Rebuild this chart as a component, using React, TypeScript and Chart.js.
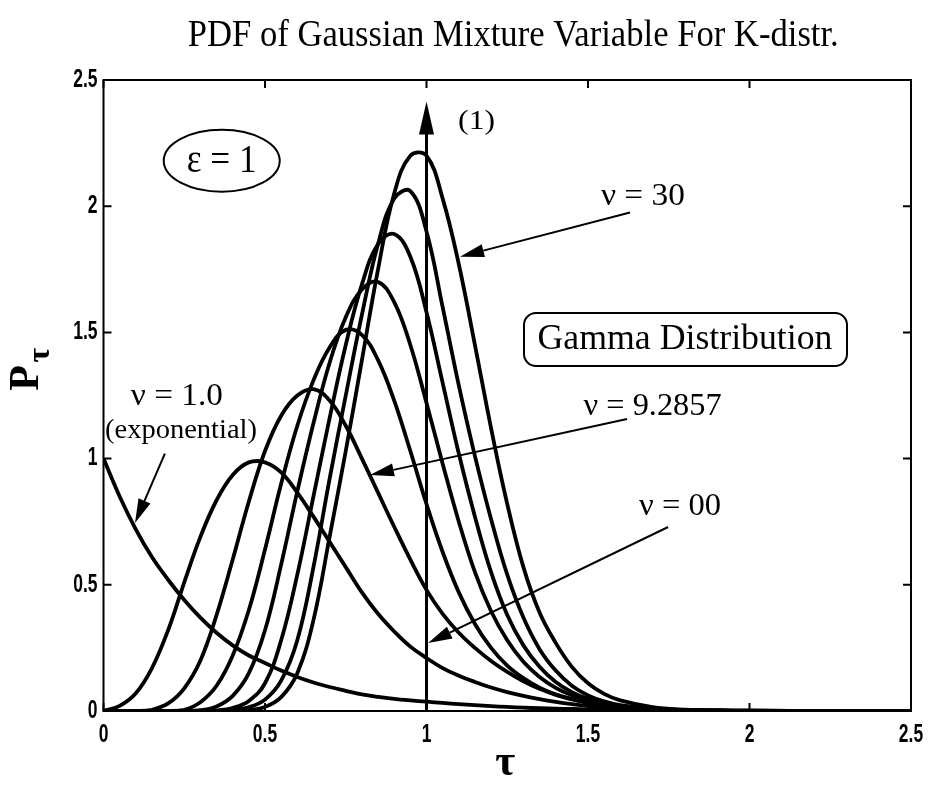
import React, { useEffect, useRef } from "react";
import { Chart, registerables } from "chart.js";

Chart.register(...registerables);

// ---- data ----
const TAU = [0, 0.05, 0.1, 0.15, 0.2, 0.25, 0.3, 0.35, 0.4, 0.45, 0.5, 0.55, 0.6, 0.65, 0.7, 0.75, 0.8, 0.85, 0.9, 0.95, 1, 1.05, 1.1, 1.15, 1.2, 1.25, 1.3, 1.35, 1.4, 1.45, 1.5, 1.55, 1.6, 1.7, 1.8, 1.9, 2, 2.25, 2.5];

const P_EXPONENTIAL = [1.0, 0.85, 0.72, 0.61, 0.52, 0.44, 0.37, 0.31, 0.26, 0.22, 0.19, 0.16, 0.135, 0.113, 0.095, 0.08, 0.066, 0.056, 0.048, 0.042, 0.037, 0.032, 0.027, 0.023, 0.019, 0.016, 0.013, 0.011, 0.009, 0.008, 0.006, 0.005, 0.004, 0.003, 0.002, 0.0015, 0.001, 0.0005, 0];
const P_CURVE_1 = [0, 0.02, 0.07, 0.17, 0.32, 0.51, 0.69, 0.835, 0.935, 0.985, 0.985, 0.945, 0.865, 0.77, 0.67, 0.57, 0.47, 0.385, 0.315, 0.255, 0.21, 0.17, 0.14, 0.115, 0.093, 0.075, 0.06, 0.047, 0.036, 0.027, 0.02, 0.015, 0.011, 0.006, 0.003, 0.0015, 0.001, 0, 0];
const P_CURVE_2 = [0, 0, 0, 0.005, 0.03, 0.09, 0.2, 0.38, 0.6, 0.83, 1.03, 1.17, 1.25, 1.275, 1.23, 1.13, 1.0, 0.865, 0.73, 0.6, 0.48, 0.385, 0.31, 0.25, 0.198, 0.155, 0.118, 0.088, 0.065, 0.048, 0.035, 0.025, 0.018, 0.009, 0.004, 0.002, 0.001, 0, 0];
const P_CURVE_3 = [0, 0, 0, 0, 0, 0.005, 0.035, 0.1, 0.22, 0.4, 0.64, 0.9, 1.13, 1.31, 1.44, 1.51, 1.49, 1.39, 1.23, 1.03, 0.82, 0.63, 0.47, 0.345, 0.25, 0.18, 0.13, 0.092, 0.065, 0.046, 0.032, 0.022, 0.015, 0.007, 0.003, 0.001, 0, 0, 0];
const P_CURVE_4 = [0, 0, 0, 0, 0, 0, 0.003, 0.018, 0.06, 0.15, 0.32, 0.58, 0.87, 1.14, 1.38, 1.56, 1.67, 1.70, 1.62, 1.45, 1.22, 0.98, 0.75, 0.55, 0.395, 0.28, 0.195, 0.135, 0.092, 0.062, 0.042, 0.028, 0.019, 0.008, 0.003, 0.001, 0, 0, 0];
const P_CURVE_5 = [0, 0, 0, 0, 0, 0, 0, 0.002, 0.012, 0.04, 0.11, 0.28, 0.54, 0.85, 1.16, 1.45, 1.69, 1.85, 1.89, 1.80, 1.58, 1.30, 1.02, 0.77, 0.55, 0.38, 0.26, 0.175, 0.115, 0.075, 0.048, 0.031, 0.02, 0.008, 0.003, 0.001, 0, 0, 0];
const P_CURVE_6 = [0, 0, 0, 0, 0, 0, 0, 0, 0.004, 0.015, 0.045, 0.12, 0.28, 0.57, 0.92, 1.25, 1.57, 1.85, 2.03, 2.06, 1.90, 1.60, 1.29, 1.01, 0.76, 0.54, 0.37, 0.245, 0.16, 0.1, 0.062, 0.038, 0.023, 0.009, 0.003, 0.001, 0, 0, 0];
const P_CURVE_30 = [0, 0, 0, 0, 0, 0, 0, 0, 0, 0.004, 0.016, 0.055, 0.15, 0.36, 0.69, 1.03, 1.39, 1.75, 2.05, 2.20, 2.20, 2.03, 1.77, 1.45, 1.12, 0.82, 0.57, 0.39, 0.27, 0.175, 0.11, 0.068, 0.042, 0.015, 0.005, 0.001, 0, 0, 0];
// nu = infinity: impulse at tau = 1 drawn as an arrow
const DELTA_TAU = [1, 1];
const DELTA_P = [0, 2.3];
const DELTA_TIP = 2.415;

const X_TICKS = [0, 0.5, 1, 1.5, 2, 2.5];
const X_TICK_LABELS = ["0", "0.5", "1", "1.5", "2", "2.5"];
const Y_TICKS = [0, 0.5, 1, 1.5, 2, 2.5];
const Y_TICK_LABELS = ["0", "0.5", "1", "1.5", "2", "2.5"];

const TITLE = "PDF of Gaussian Mixture Variable For K-distr.";
const X_LABEL = "τ";
const Y_LABEL_MAIN = "P";
const Y_LABEL_SUB = "τ";

const SERIF = "'Liberation Serif', 'Times New Roman', serif";
const SANS = "'Liberation Sans', Arial, sans-serif";

function fitText(ctx: CanvasRenderingContext2D, text: string, cx: number, cy: number, font: string, width: number) {
  ctx.save();
  ctx.font = font;
  const m = ctx.measureText(text).width;
  ctx.translate(cx, cy);
  ctx.scale(width / m, 1);
  ctx.textAlign = "center";
  ctx.textBaseline = "middle";
  ctx.fillStyle = "#000";
  ctx.fillText(text, 0, 0);
  ctx.restore();
}

function squeezeText(ctx: CanvasRenderingContext2D, text: string, x: number, cy: number, font: string, squeeze: number, align: "center" | "right") {
  ctx.save();
  ctx.font = font;
  ctx.translate(x, cy);
  ctx.scale(squeeze, 1);
  ctx.textAlign = align;
  ctx.textBaseline = "middle";
  ctx.fillStyle = "#000";
  ctx.fillText(text, 0, 0);
  ctx.restore();
}

function arrow(ctx: CanvasRenderingContext2D, x0: number, y0: number, x1: number, y1: number, headLen: number, headHalf: number, lw: number) {
  const ang = Math.atan2(y1 - y0, x1 - x0);
  const bx = x1 - headLen * Math.cos(ang);
  const by = y1 - headLen * Math.sin(ang);
  ctx.save();
  ctx.strokeStyle = "#000";
  ctx.fillStyle = "#000";
  ctx.lineWidth = lw;
  ctx.beginPath();
  ctx.moveTo(x0, y0);
  ctx.lineTo(bx, by);
  ctx.stroke();
  ctx.beginPath();
  ctx.moveTo(x1, y1);
  ctx.lineTo(bx + headHalf * Math.sin(ang), by - headHalf * Math.cos(ang));
  ctx.lineTo(bx - headHalf * Math.sin(ang), by + headHalf * Math.cos(ang));
  ctx.closePath();
  ctx.fill();
  ctx.restore();
}

const decorations = {
  id: "decorations",
  afterDatasetsDraw(chart: any) {
    const { ctx, chartArea: a, scales } = chart;
    const X = (v: number) => scales.x.getPixelForValue(v);
    const Y = (v: number) => scales.y.getPixelForValue(v);
    ctx.save();
    ctx.strokeStyle = "#000";
    ctx.lineWidth = 2;
    ctx.strokeRect(a.left, a.top, a.right - a.left, a.bottom - a.top);
    ctx.beginPath();
    X_TICKS.forEach((v) => {
      const px = X(v);
      ctx.moveTo(px, a.bottom); ctx.lineTo(px, a.bottom - 8);
      ctx.moveTo(px, a.top); ctx.lineTo(px, a.top + 8);
    });
    Y_TICKS.forEach((v) => {
      const py = Y(v);
      ctx.moveTo(a.left, py); ctx.lineTo(a.left + 8, py);
      ctx.moveTo(a.right, py); ctx.lineTo(a.right - 8, py);
    });
    ctx.stroke();

    // tick labels (bold, condensed like the scanned original)
    const tickFont = `bold 25px ${SANS}`;
    X_TICKS.forEach((v, i) => squeezeText(ctx, X_TICK_LABELS[i], X(v), a.bottom + 24, tickFont, 0.7, "center"));
    Y_TICKS.forEach((v, i) => squeezeText(ctx, Y_TICK_LABELS[i], a.left - 6, Y(v), tickFont, 0.7, "right"));

    // impulse arrowhead
    const dx = X(DELTA_TAU[1]);
    const tipY = Y(DELTA_TIP);
    const baseY = Y(DELTA_P[1]) + 4;
    ctx.fillStyle = "#000";
    ctx.beginPath();
    ctx.moveTo(dx, tipY);
    ctx.lineTo(dx - 7.5, baseY);
    ctx.lineTo(dx + 7.5, baseY);
    ctx.closePath();
    ctx.fill();

    // annotations
    fitText(ctx, "(1)", X(1.155), Y(2.335), `28px ${SERIF}`, 37);

    ctx.lineWidth = 2;
    ctx.beginPath();
    ctx.ellipse(X(0.366), Y(2.18), 58, 31, 0, 0, Math.PI * 2);
    ctx.stroke();
    fitText(ctx, "ε = 1", X(0.366), Y(2.18) + 1, `40px ${SERIF}`, 70);

    fitText(ctx, "ν = 30", X(1.67), Y(2.04), `32px ${SERIF}`, 84);
    arrow(ctx, X(1.63), Y(1.975), X(1.104), Y(1.80), 24, 6.5, 2);

    ctx.lineWidth = 2;
    ctx.beginPath();
    (ctx as any).roundRect(524, 313, 323, 53, 12);
    ctx.stroke();
    fitText(ctx, "Gamma Distribution", 685, 340, `35px ${SERIF}`, 295);

    fitText(ctx, "ν = 1.0", X(0.227), Y(1.245), `31px ${SERIF}`, 92);
    fitText(ctx, "(exponential)", X(0.24), Y(1.11), `27px ${SERIF}`, 152);
    arrow(ctx, X(0.19), Y(1.02), X(0.0975), Y(0.745), 24, 6.5, 2);

    fitText(ctx, "ν = 9.2857", X(1.70), Y(1.205), `32px ${SERIF}`, 138);
    arrow(ctx, X(1.621), Y(1.157), X(0.825), Y(0.935), 24, 6.5, 2);

    fitText(ctx, "ν = 00", X(1.785), Y(0.808), `32px ${SERIF}`, 82);
    arrow(ctx, X(1.748), Y(0.729), X(1.005), Y(0.269), 24, 6.5, 2);

    ctx.restore();
  },
  afterDraw(chart: any) {
    const { ctx, chartArea: a } = chart;
    const cx = (a.left + a.right) / 2;
    fitText(ctx, TITLE, cx + 6, 36, `38px ${SERIF}`, 651);
    fitText(ctx, X_LABEL, cx - 2, 764, `bold 44px ${SERIF}`, 20);
    ctx.save();
    ctx.translate(27, 378);
    ctx.rotate(-Math.PI / 2);
    ctx.fillStyle = "#000";
    ctx.textAlign = "center";
    ctx.textBaseline = "middle";
    ctx.font = `bold 42px ${SERIF}`;
    ctx.fillText(Y_LABEL_MAIN, 0, 0);
    ctx.font = `bold 32px ${SERIF}`;
    ctx.fillText(Y_LABEL_SUB, 23, 14);
    ctx.restore();
  },
};

function series(values: number[]) {
  return {
    data: TAU.map((t, i) => ({ x: t, y: values[i] })),
    borderColor: "#000",
    borderWidth: 3.8,
    pointRadius: 0,
    fill: false,
    tension: 0.4,
  };
}

export default function App() {
  const ref = useRef<HTMLCanvasElement | null>(null);
  useEffect(() => {
    document.body.style.margin = "0";
    const canvas = ref.current;
    if (!canvas) return;
    const chart = new Chart(canvas, {
      type: "line",
      data: {
        datasets: [
          series(P_EXPONENTIAL),
          series(P_CURVE_1),
          series(P_CURVE_2),
          series(P_CURVE_3),
          series(P_CURVE_4),
          series(P_CURVE_5),
          series(P_CURVE_6),
          series(P_CURVE_30),
          {
            data: DELTA_TAU.map((t, i) => ({ x: t, y: DELTA_P[i] })),
            borderColor: "#000",
            borderWidth: 3,
            pointRadius: 0,
            fill: false,
            tension: 0,
          },
        ],
      },
      options: {
        responsive: false,
        animation: false,
        layout: { padding: { left: 0, right: 19, top: 80, bottom: 0 } },
        plugins: { legend: { display: false }, tooltip: { enabled: false }, title: { display: false } },
        scales: {
          x: {
            type: "linear",
            min: 0,
            max: 2.5,
            afterFit: (s: any) => { s.height = 81; },
            ticks: { display: false, stepSize: 0.5 },
            grid: { display: false, drawTicks: false },
            border: { display: false },
          },
          y: {
            type: "linear",
            min: 0,
            max: 2.5,
            afterFit: (s: any) => { s.width = 103.5; },
            ticks: { display: false, stepSize: 0.5 },
            grid: { display: false, drawTicks: false },
            border: { display: false },
          },
        },
      },
      plugins: [decorations],
    });
    return () => chart.destroy();
  }, []);
  return (
    <div style={{ width: 930, height: 792, background: "#fff" }}>
      <canvas ref={ref} width={930} height={792} style={{ display: "block" }} />
    </div>
  );
}
